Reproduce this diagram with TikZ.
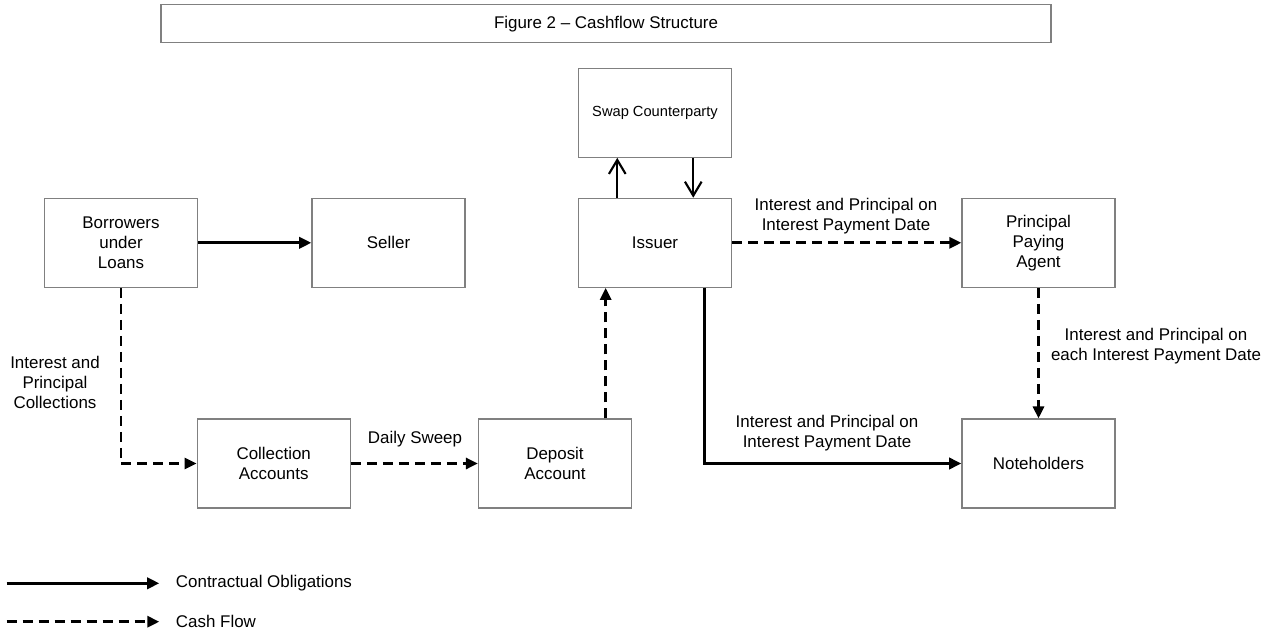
\documentclass[tikz,border=0pt]{standalone}
\usepackage{fontspec}
\setmainfont{Liberation Sans}
\usetikzlibrary{arrows.meta,calc}
\definecolor{boxgray}{RGB}{128,128,128}
\tikzset{
  entity/.style={draw=boxgray, line width=1pt, minimum width=114.75pt, minimum height=66.6pt,
    align=center, inner sep=0pt, font=\fontsize{12.7}{15}\selectfont},
  lbl/.style={align=center, inner sep=0pt, font=\fontsize{12.7}{15}\selectfont},
  oblig/.style={line width=2.2pt, -{Triangle[length=9.2pt,width=8.5pt]}},
  cash/.style={line width=2.1pt, dash pattern=on 7.5pt off 4.5pt, -{Triangle[length=9pt,width=8.3pt]}},
  swaparrow/.style={line width=1.6pt, -{Straight Barb[length=10.5pt,width=12.5pt,line width=1.6pt]}},
}
\begin{document}
\begin{tikzpicture}[x=0.75pt,y=-0.75pt]
\useasboundingbox (0,0) rectangle (1274,635);

% title
\node[draw=boxgray, line width=1.2pt, minimum width=667.5pt, minimum height=28.5pt, inner sep=0pt,
  font=\fontsize{12.7}{15}\selectfont] (title) at (606,23.7) {Figure 2 – Cashflow Structure};

% entities
\node[entity] (bor) at (121,242.8) {Borrowers\\under\\Loans};
\node[entity] (sel) at (388.5,242.8) {Seller};
\node[entity] (iss) at (655,242.8) {Issuer};
\node[entity] (ppa) at (1038.5,242.8) {Principal\\Paying\\Agent};
\node[entity, font=\fontsize{11}{13}\selectfont] (swap) at (655,112.8) {Swap Counterparty};
\node[entity] (col) at (273.7,463.5) {Collection\\Accounts};
\node[entity] (dep) at (555,463.5) {Deposit\\Account};
\node[entity] (note) at (1038.5,463.5) {Noteholders};

% connectors
\draw[oblig] (bor.east) -- (sel.west);
\draw[swaparrow] ([xshift=-28.3pt]iss.north) -- ([xshift=-28.3pt]swap.south);
\draw[swaparrow] ([xshift=28.7pt]swap.south) -- ([xshift=28.7pt]iss.north);
\draw[cash] (iss.east) -- (ppa.west);
\draw[cash] (ppa.south) -- (note.north);
\draw[cash] (bor.south) |- (col.west);
\draw[cash] (col.east) -- (dep.west);
\draw[cash] ([xshift=38pt]dep.north) -- ([xshift=38pt]dep.north |- iss.south);
\draw[oblig] ([xshift=36.8pt]iss.south) |- (note.west);

% labels
\node[lbl] (l1) at (846,216.5) {Interest and Principal on\\Interest Payment Date};
\node[lbl] (l2) at (1156,346) {Interest and Principal on\\each Interest Payment Date};
\node[lbl] (l3) at (827,432.7) {Interest and Principal on\\Interest Payment Date};
\node[lbl] (l4) at (55,382.5) {Interest and\\Principal\\Collections};
\node[lbl] (l5) at (415,439.3) {Daily Sweep};

% legend
\coordinate (a1) at (6.7,583.3);
\coordinate (a2) at (159.3,583.3);
\coordinate (b1) at (6.7,621.7);
\coordinate (b2) at (159.3,621.7);
\draw[oblig] (a1) -- (a2);
\draw[cash] (b1) -- (b2);
\node[lbl, anchor=west] (t1) at (175.7,583.3) {Contractual Obligations};
\node[lbl, anchor=west] (t2) at (175.7,621.7) {Cash Flow};
\end{tikzpicture}
\end{document}
